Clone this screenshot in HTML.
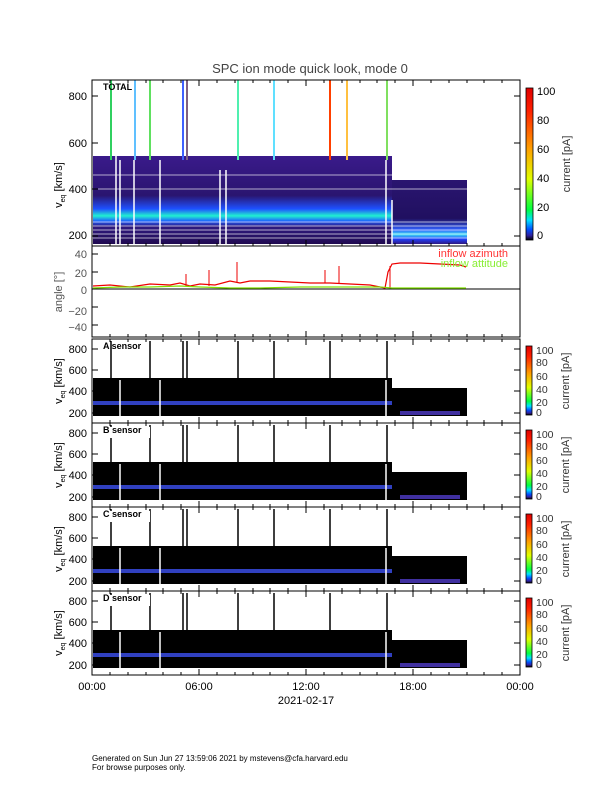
<!DOCTYPE html>
<html><head><meta charset="utf-8"><style>
body{margin:0;background:#fff}
svg{display:block;font-family:"Liberation Sans",sans-serif}
</style></head><body>
<svg width="612" height="792" viewBox="0 0 612 792" xmlns="http://www.w3.org/2000/svg">
<defs>
<linearGradient id="cb" x1="0" y1="1" x2="0" y2="0">
<stop offset="0" stop-color="#000"/><stop offset="0.03" stop-color="#3020a0"/><stop offset="0.07" stop-color="#0050ff"/><stop offset="0.13" stop-color="#00e0ff"/><stop offset="0.2" stop-color="#00ff40"/><stop offset="0.4" stop-color="#e0ff00"/><stop offset="0.6" stop-color="#ffa000"/><stop offset="0.85" stop-color="#ff2000"/><stop offset="1" stop-color="#e00000"/>
</linearGradient>
<linearGradient id="band" x1="0" y1="0" x2="0" y2="1">
<stop offset="0" stop-color="#3a1a8a"/><stop offset="0.45" stop-color="#2a1570"/><stop offset="0.6" stop-color="#1e50ff"/><stop offset="0.68" stop-color="#20f0d0"/><stop offset="0.74" stop-color="#1e60ff"/><stop offset="0.8" stop-color="#301a80"/><stop offset="1" stop-color="#200a50"/>
</linearGradient>
<linearGradient id="band2" x1="0" y1="0" x2="0" y2="1">
<stop offset="0" stop-color="#2a1570"/><stop offset="0.6" stop-color="#201060"/><stop offset="0.78" stop-color="#3060ff"/><stop offset="0.85" stop-color="#40e0f0"/><stop offset="0.92" stop-color="#2040ff"/><stop offset="1" stop-color="#301880"/>
</linearGradient>
<g id="xt" stroke="#000" stroke-width="1">
<line x1="110" y1="0" x2="110" y2="3"/><line x1="128" y1="0" x2="128" y2="3"/><line x1="146" y1="0" x2="146" y2="3"/><line x1="163" y1="0" x2="163" y2="3"/><line x1="181" y1="0" x2="181" y2="3"/><line x1="199" y1="0" x2="199" y2="6"/><line x1="217" y1="0" x2="217" y2="3"/><line x1="235" y1="0" x2="235" y2="3"/><line x1="253" y1="0" x2="253" y2="3"/><line x1="270" y1="0" x2="270" y2="3"/><line x1="288" y1="0" x2="288" y2="3"/><line x1="306" y1="0" x2="306" y2="6"/><line x1="324" y1="0" x2="324" y2="3"/><line x1="342" y1="0" x2="342" y2="3"/><line x1="360" y1="0" x2="360" y2="3"/><line x1="377" y1="0" x2="377" y2="3"/><line x1="395" y1="0" x2="395" y2="3"/><line x1="413" y1="0" x2="413" y2="6"/><line x1="431" y1="0" x2="431" y2="3"/><line x1="449" y1="0" x2="449" y2="3"/><line x1="467" y1="0" x2="467" y2="3"/><line x1="484" y1="0" x2="484" y2="3"/><line x1="502" y1="0" x2="502" y2="3"/>
</g>
</defs>
<text x="310" y="73" font-size="13" text-anchor="middle" fill="#444">SPC ion mode quick look, mode 0</text>

<!-- TOP PANEL -->
<rect x="93" y="156" width="299" height="88" fill="url(#band)"/>
<rect x="392" y="180" width="75" height="64" fill="url(#band2)"/>
<g stroke="#fff" stroke-width="0.8" opacity="0.85">
<line x1="93" y1="175" x2="467" y2="175"/><line x1="93" y1="189" x2="467" y2="189"/>
<line x1="93" y1="222" x2="467" y2="222"/><line x1="93" y1="226" x2="467" y2="226"/><line x1="93" y1="230" x2="467" y2="230"/><line x1="93" y1="234" x2="467" y2="234"/><line x1="93" y1="238" x2="467" y2="238"/>
</g>
<g stroke="#fff" stroke-width="1.5">
<line x1="116" y1="150" x2="116" y2="244"/><line x1="120" y1="160" x2="120" y2="244"/><line x1="134" y1="160" x2="134" y2="244"/><line x1="160" y1="160" x2="160" y2="244"/><line x1="220" y1="170" x2="220" y2="244"/><line x1="226" y1="170" x2="226" y2="244"/><line x1="386" y1="160" x2="386" y2="244"/><line x1="392" y1="200" x2="392" y2="244"/>
</g>
<g stroke-width="2">
<line x1="111" y1="80" x2="111" y2="160" stroke="#30d060"/>
<line x1="135" y1="80" x2="135" y2="160" stroke="#60c0ff"/>
<line x1="150" y1="80" x2="150" y2="160" stroke="#60e060"/>
<line x1="183" y1="80" x2="183" y2="160" stroke="#4060ff"/>
<line x1="187" y1="80" x2="187" y2="160" stroke="#806080"/>
<line x1="238" y1="80" x2="238" y2="160" stroke="#50f0b0"/>
<line x1="274" y1="80" x2="274" y2="160" stroke="#60e0ff"/>
<line x1="330" y1="80" x2="330" y2="160" stroke="#ff4000"/>
<line x1="347" y1="80" x2="347" y2="160" stroke="#ffc040"/>
<line x1="387" y1="80" x2="387" y2="160" stroke="#80e060"/>
</g>
<rect x="92" y="80" width="428" height="166" fill="none" stroke="#000"/>
<use href="#xt" transform="translate(0,80)"/><use href="#xt" transform="translate(0,246) scale(1,-1)"/>
<g stroke="#000"><line x1="92" y1="96" x2="98" y2="96"/><line x1="92" y1="143" x2="98" y2="143"/><line x1="92" y1="189" x2="98" y2="189"/><line x1="92" y1="236" x2="98" y2="236"/><line x1="514" y1="96" x2="520" y2="96"/><line x1="514" y1="143" x2="520" y2="143"/><line x1="514" y1="189" x2="520" y2="189"/><line x1="514" y1="236" x2="520" y2="236"/></g>
<text x="103" y="90" font-size="9" font-weight="bold">TOTAL</text>
<g font-size="11" text-anchor="end" fill="#000">
<text x="87" y="100">800</text><text x="87" y="193">400</text><text x="87" y="239">200</text><text x="87" y="147">600</text>
</g>
<text transform="translate(62,185) rotate(-90)" font-size="11" text-anchor="middle">v<tspan font-size="7" dy="3">eq</tspan><tspan dy="-3"> [km/s]</tspan></text>
<rect x="526" y="88" width="7" height="152" fill="url(#cb)" stroke="#000" stroke-width="0.8"/>
<g font-size="11" fill="#000"><text x="537" y="95">100</text><text x="537" y="124">80</text><text x="537" y="153">60</text><text x="537" y="182">40</text><text x="537" y="211">20</text><text x="537" y="239">0</text></g>
<text transform="translate(570,164) rotate(-90)" font-size="11" text-anchor="middle" fill="#333">current [pA]</text>

<!-- ANGLE PANEL -->
<rect x="92" y="246" width="428" height="91" fill="none" stroke="#000"/>
<use href="#xt" transform="translate(0,337) scale(1,-1)"/>
<g stroke="#000"><line x1="92" y1="254" x2="98" y2="254"/><line x1="92" y1="272" x2="98" y2="272"/><line x1="92" y1="307" x2="98" y2="307"/><line x1="92" y1="325" x2="98" y2="325"/></g>
<line x1="92" y1="289" x2="520" y2="289" stroke="#000"/>
<polyline fill="none" stroke="#e00" stroke-width="1.2" points="93,286 110,285 130,287 150,284 170,285 180,283 190,286 200,284 215,285 230,281 240,283 250,281 270,281 290,282 310,283 330,283 350,284 370,285 385,288 388,272 392,264 400,263 420,263 440,264 460,265 466,267"/>
<g stroke="#e00" stroke-width="1"><line x1="237" y1="282" x2="237" y2="262"/><line x1="209" y1="286" x2="209" y2="270"/><line x1="325" y1="283" x2="325" y2="270"/><line x1="339" y1="283" x2="339" y2="266"/><line x1="186" y1="286" x2="186" y2="274"/><line x1="390" y1="288" x2="390" y2="266"/></g>
<polyline fill="none" stroke="#80e000" stroke-width="1.2" points="93,288 120,287 150,287 180,286 200,287 230,288 260,288 300,287 340,287 380,287 392,288 420,288 466,288"/>
<g font-size="11" text-anchor="end" fill="#555"><text x="87" y="258">40</text><text x="87" y="277">20</text><text x="87" y="294">0</text><text x="87" y="315">−20</text><text x="87" y="331">−40</text></g>
<text transform="translate(62,292) rotate(-90)" font-size="11" text-anchor="middle" fill="#555">angle [°]</text>
<text x="508" y="257" font-size="11" text-anchor="end" fill="#f33">inflow azimuth</text>
<text x="508" y="267" font-size="11" text-anchor="end" fill="#8e3">inflow attitude</text>

<!-- SENSOR PANELS -->
<g id="sA">
<rect x="93" y="378" width="299" height="38" fill="#000"/>
<rect x="392" y="388" width="75" height="28" fill="#000"/>
<rect x="93" y="401" width="299" height="4" fill="#3040c0"/>
<rect x="400" y="411" width="60" height="4" fill="#4030a0"/>
<g stroke="#000" stroke-width="1.5"><line x1="111" y1="341" x2="111" y2="378"/><line x1="150" y1="341" x2="150" y2="378"/><line x1="183" y1="341" x2="183" y2="378"/><line x1="187" y1="341" x2="187" y2="378"/><line x1="238" y1="341" x2="238" y2="378"/><line x1="274" y1="341" x2="274" y2="378"/><line x1="330" y1="341" x2="330" y2="378"/><line x1="387" y1="341" x2="387" y2="378"/></g>
<g stroke="#fff" stroke-width="1.5"><line x1="120" y1="380" x2="120" y2="416"/><line x1="160" y1="380" x2="160" y2="416"/><line x1="386" y1="380" x2="386" y2="416"/></g>
<rect x="92" y="339" width="428" height="84" fill="none" stroke="#000"/>
<use href="#xt" transform="translate(0,339)"/><use href="#xt" transform="translate(0,423) scale(1,-1)"/>
<g stroke="#000"><line x1="92" y1="349" x2="98" y2="349"/><line x1="92" y1="370" x2="98" y2="370"/><line x1="92" y1="391" x2="98" y2="391"/><line x1="92" y1="413" x2="98" y2="413"/><line x1="514" y1="349" x2="520" y2="349"/><line x1="514" y1="370" x2="520" y2="370"/><line x1="514" y1="391" x2="520" y2="391"/><line x1="514" y1="413" x2="520" y2="413"/></g>
<text x="103" y="349" font-size="9" font-weight="bold">A  sensor</text>
<g font-size="11" text-anchor="end"><text x="87" y="353">800</text><text x="87" y="374">600</text><text x="87" y="395">400</text><text x="87" y="417">200</text></g>
<text transform="translate(62,381) rotate(-90)" font-size="11" text-anchor="middle">v<tspan font-size="7" dy="3">eq</tspan><tspan dy="-3"> [km/s]</tspan></text>
<rect x="526" y="346" width="6" height="69" fill="url(#cb)" stroke="#000" stroke-width="0.8"/>
<g font-size="10.5" fill="#333"><text x="536" y="354">100</text><text x="536" y="366">80</text><text x="536" y="380">60</text><text x="536" y="393">40</text><text x="536" y="406">20</text><text x="536" y="416">0</text></g>
<text transform="translate(569,381) rotate(-90)" font-size="11" text-anchor="middle" fill="#333">current [pA]</text>
</g>
<use href="#sA" transform="translate(0,84)"/>
<use href="#sA" transform="translate(0,168)"/>
<use href="#sA" transform="translate(0,252)"/>
<rect x="100" y="427" width="50" height="11" fill="#fff"/><text x="103" y="433" font-size="9" font-weight="bold">B  sensor</text>
<rect x="100" y="511" width="50" height="11" fill="#fff"/><text x="103" y="517" font-size="9" font-weight="bold">C  sensor</text>
<rect x="100" y="595" width="50" height="11" fill="#fff"/><text x="103" y="601" font-size="9" font-weight="bold">D  sensor</text>

<!-- X AXIS -->
<g font-size="11" text-anchor="middle"><text x="92" y="690">00:00</text><text x="199" y="690">06:00</text><text x="306" y="690">12:00</text><text x="413" y="690">18:00</text><text x="520" y="690">00:00</text><text x="306" y="704">2021-02-17</text></g>
<text x="92" y="761" font-size="8">Generated on Sun Jun 27 13:59:06 2021 by mstevens@cfa.harvard.edu</text>
<text x="92" y="770" font-size="8">For browse purposes only.</text>
</svg>
</body></html>
